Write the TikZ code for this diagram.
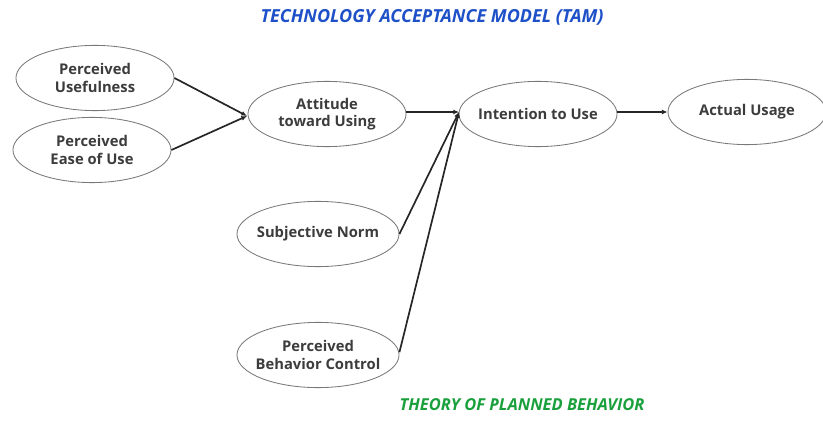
\documentclass[tikz,border=0pt]{standalone}
\usepackage{fontspec}
\setmainfont{Open Sans}
\usepackage{xcolor}
\usepackage{tikz}
\usetikzlibrary{shapes.geometric, arrows.meta, positioning}
\definecolor{tamblue}{RGB}{30, 80, 200}
\definecolor{tpbgreen}{RGB}{25, 160, 60}
\definecolor{textdark}{RGB}{60, 60, 60}
\definecolor{edgegray}{RGB}{120, 120, 120}

\begin{document}
\begin{tikzpicture}[
    x=0.025cm, y=-0.025cm,
    construct/.style={ellipse, draw=edgegray, line width=0.6pt, minimum width=3.95cm, minimum height=1.63cm, inner xsep=-10pt, inner ysep=0pt, align=center, font=\bfseries\fontsize{10.5}{12.5}\selectfont, text=textdark},
    link/.style={line width=1.2pt, black!85, -{Latex[length=4pt, width=3.5pt]}},
    title/.style={font=\bfseries\itshape\fontsize{12.8}{15}\selectfont}
]
    \useasboundingbox (0, 0) rectangle (823, 427);

    % Titles
    \node[title, text=tamblue] (tam) at (432, 17) {TECHNOLOGY ACCEPTANCE MODEL (TAM)};
    \node[title, text=tpbgreen, font=\bfseries\itshape\fontsize{11.7}{14}\selectfont] (tpb) at (522, 405) {THEORY OF PLANNED BEHAVIOR};

    % Constructs
    \node[construct] (useful) at (95, 78) {Perceived\\Usefulness};
    \node[construct] (ease) at (92, 150) {Perceived\\Ease of Use};
    \node[construct] (attitude) at (327, 114) {Attitude\\toward Using};
    \node[construct] (intention) at (538, 114) {Intention to Use};
    \node[construct] (usage) at (747, 112) {Actual Usage};
    \node[construct, minimum width=4.05cm] (norm) at (318, 234) {Subjective Norm};
    \node[construct, minimum width=4.05cm] (control) at (318, 355) {Perceived\\Behavior Control};

    % Joins
    \coordinate (jattitude) at (247, 116);
    \coordinate (jintention) at (459, 112);

    % Links
    \draw[link] (useful.east) -- (jattitude);
    \draw[link] (ease.east) -- (jattitude);
    \draw[link] (attitude.east |- jintention) -- (jintention);
    \draw[link] (norm.east) -- (jintention);
    \draw[link] ([yshift=2pt]control.east) -- (jintention);
    \draw[link] (intention.east |- usage) -- (usage);
\end{tikzpicture}
\end{document}
